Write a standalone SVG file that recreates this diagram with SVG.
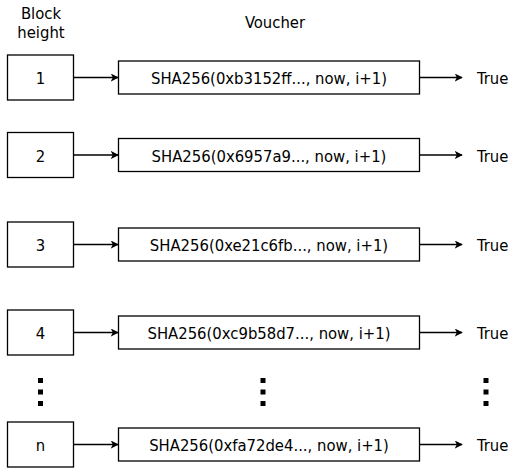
<svg xmlns="http://www.w3.org/2000/svg" width="518" height="472" viewBox="0 0 518 472">
<style>
text{font-family:'DejaVu Sans Condensed','DejaVu Sans',sans-serif;font-stretch:condensed;font-size:16.5px;fill:#000}
.box{fill:#fff;stroke:#000;stroke-width:1.3}
.edge{stroke:#000;stroke-width:1.3;fill:none;marker-end:url(#arr)}
.dot{fill:#000}
</style>
<defs>
<marker id="arr" viewBox="0 0 10 10" refX="9" refY="5" markerWidth="8" markerHeight="8" markerUnits="userSpaceOnUse" orient="auto">
<path d="M0,0 L10,5 L0,10 L2.5,5 Z" fill="#000"/>
</marker>
</defs>
<g id="header-block">
<text x="41" y="19" text-anchor="middle">Block</text>
<text x="41" y="38" text-anchor="middle">height</text>
</g>
<g id="header-voucher"><text x="275" y="28" text-anchor="middle">Voucher</text></g>

<g id="h1"><rect class="box" x="7.5" y="55" width="66" height="45"/><text x="40.5" y="84" text-anchor="middle">1</text></g>
<g id="v1"><rect class="box" x="118.5" y="61" width="301" height="33"/><text x="269" y="84" text-anchor="middle">SHA256(0xb3152ff..., now, i+1)</text></g>
<g id="t1"><text x="477" y="84">True</text></g>

<g id="h2"><rect class="box" x="7.5" y="132.5" width="66" height="45"/><text x="40.5" y="161.5" text-anchor="middle">2</text></g>
<g id="v2"><rect class="box" x="118.5" y="138.5" width="301" height="33"/><text x="269" y="161.5" text-anchor="middle">SHA256(0x6957a9..., now, i+1)</text></g>
<g id="t2"><text x="477" y="161.5">True</text></g>

<g id="h3"><rect class="box" x="7.5" y="222" width="66" height="45"/><text x="40.5" y="251" text-anchor="middle">3</text></g>
<g id="v3"><rect class="box" x="118.5" y="228" width="301" height="33"/><text x="269" y="251" text-anchor="middle">SHA256(0xe21c6fb..., now, i+1)</text></g>
<g id="t3"><text x="477" y="251">True</text></g>

<g id="h4"><rect class="box" x="7.5" y="310" width="66" height="45"/><text x="40.5" y="339" text-anchor="middle">4</text></g>
<g id="v4"><rect class="box" x="118.5" y="316" width="301" height="33"/><text x="269" y="339" text-anchor="middle">SHA256(0xc9b58d7..., now, i+1)</text></g>
<g id="t4"><text x="477" y="339">True</text></g>

<g id="hn"><rect class="box" x="7.5" y="422" width="66" height="45"/><text x="40.5" y="451" text-anchor="middle">n</text></g>
<g id="vn"><rect class="box" x="118.5" y="428" width="301" height="33"/><text x="269" y="451" text-anchor="middle">SHA256(0xfa72de4..., now, i+1)</text></g>
<g id="tn"><text x="477" y="451">True</text></g>

<g id="ellipsis">
<rect class="dot" x="38" y="378" width="5" height="5"/><rect class="dot" x="38" y="389.5" width="5" height="5"/><rect class="dot" x="38" y="401" width="5" height="5"/>
<rect class="dot" x="260.5" y="378" width="5" height="5"/><rect class="dot" x="260.5" y="389.5" width="5" height="5"/><rect class="dot" x="260.5" y="401" width="5" height="5"/>
<rect class="dot" x="483.5" y="378" width="5" height="5"/><rect class="dot" x="483.5" y="389.5" width="5" height="5"/><rect class="dot" x="483.5" y="401" width="5" height="5"/>
</g>

<g id="connectors">
<path class="edge" d="M73.5,77.5 H118"/>
<path class="edge" d="M419.5,77.5 H462"/>
<path class="edge" d="M73.5,155 H118"/>
<path class="edge" d="M419.5,155 H462"/>
<path class="edge" d="M73.5,244.5 H118"/>
<path class="edge" d="M419.5,244.5 H462"/>
<path class="edge" d="M73.5,332.5 H118"/>
<path class="edge" d="M419.5,332.5 H462"/>
<path class="edge" d="M73.5,444.5 H118"/>
<path class="edge" d="M419.5,444.5 H462"/>
</g>
</svg>
